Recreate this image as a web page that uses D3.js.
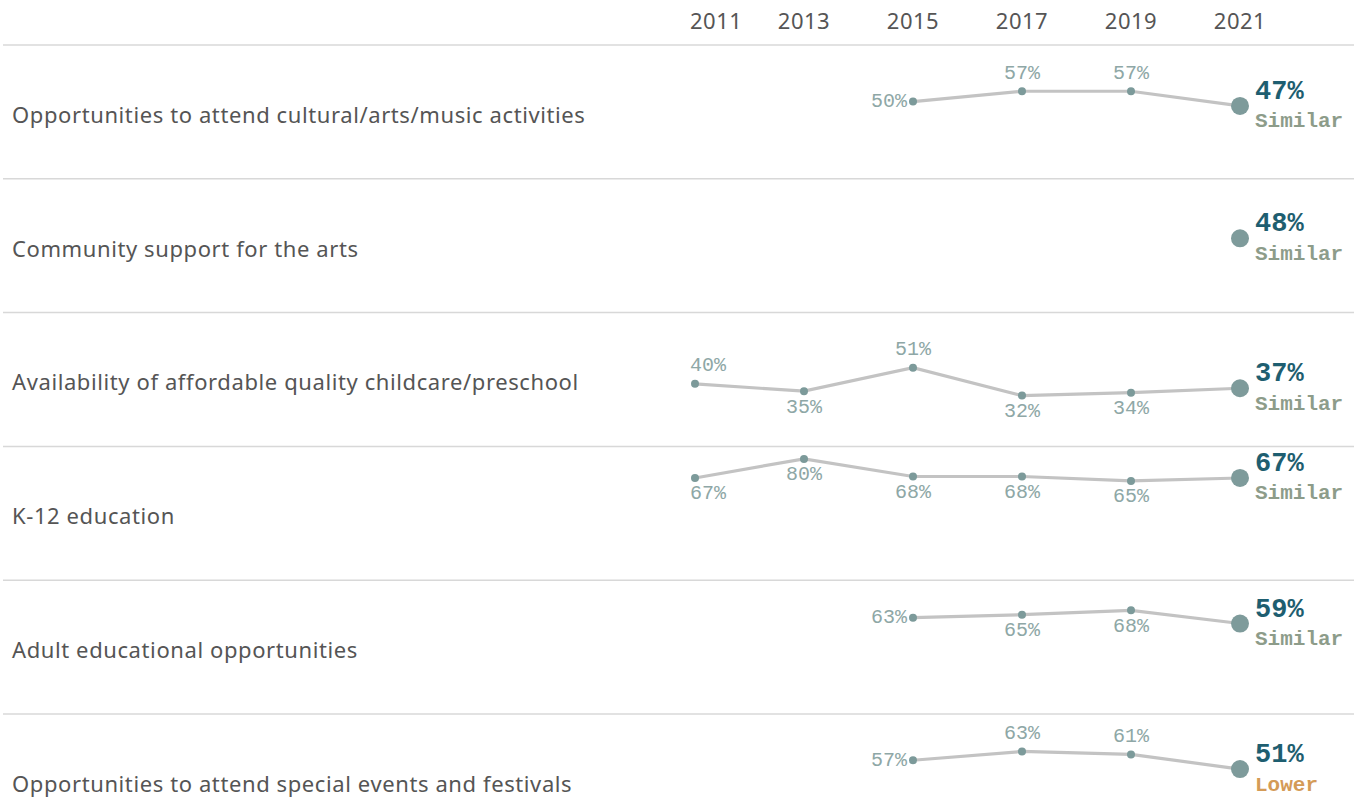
<!DOCTYPE html>
<html>
<head>
<meta charset="utf-8">
<script src="https://cdn.jsdelivr.net/npm/d3@7"></script>
<style>
  html, body { margin: 0; padding: 0; background: #fff; }
  svg { display: block; }
</style>
</head>
<body>
<svg id="chart" width="1354" height="797"></svg>
<script>
// Survey years shown across the top
const years = [2011, 2013, 2015, 2017, 2019, 2021];

// Row categories
const categories = [
  "Opportunities to attend cultural/arts/music activities",
  "Community support for the arts",
  "Availability of affordable quality childcare/preschool",
  "K-12 education",
  "Adult educational opportunities",
  "Opportunities to attend special events and festivals"
];

// Percent rating per year (null = not asked that year)
const culturalArts   = [null, null, 50, 57, 57, 47];
const artsSupport    = [null, null, null, null, null, 48];
const childcare      = [40, 35, 51, 32, 34, 37];
const k12Education   = [67, 80, 68, 68, 65, 67];
const adultEducation = [null, null, 63, 65, 68, 59];
const specialEvents  = [null, null, 57, 63, 61, 51];

// Comparison of the latest result with benchmarks
const comparisons = ["Similar", "Similar", "Similar", "Similar", "Similar", "Lower"];

// Where each earlier-year label sits relative to its point
const labelSides = [
  [null, null, "left", "above", "above", null],
  [null, null, null, null, null, null],
  ["above", "below", "above", "below", "below", null],
  ["below", "below", "below", "below", "below", null],
  [null, null, "left", "below", "below", null],
  [null, null, "left", "above", "above", null]
];

const seriesList = [culturalArts, artsSupport, childcare, k12Education, adultEducation, specialEvents];

const svg = d3.select("#chart");
const W = 1354;
const headerH = 45;
const rowH = 133.8;
const paneLeft = 690;

const x = d3.scaleLinear().domain([2011, 2021]).range([695, 1240]);
const y = d3.scaleLinear().domain([0, 88.5]).range([130, 0]);

const compColor = { "Similar": "#8d9c8a", "Lower": "#d49b57" };

// Year header
const header = svg.append("g");
header.selectAll("text")
  .data(years)
  .join("text")
  .text(d => d)
  .attr("y", 20)
  .attr("dominant-baseline", "central")
  .attr("text-anchor", "middle")
  .attr("font-family", "'Noto Sans', sans-serif")
  .attr("font-size", 22)
  .attr("letter-spacing", 0.5)
  .attr("fill", "#555")
  .attr("x", function(d) {
    const half = this.getComputedTextLength() / 2;
    return Math.max(x(d), paneLeft + half);
  });

// Row separators
svg.append("g").selectAll("line")
  .data(d3.range(categories.length))
  .join("line")
  .attr("x1", 3).attr("x2", W)
  .attr("y1", i => headerH + i * rowH)
  .attr("y2", i => headerH + i * rowH)
  .attr("stroke", "#d8d8d8")
  .attr("stroke-width", 1.5);

const line = d3.line()
  .defined(d => d.v != null)
  .x(d => x(d.year))
  .y(d => y(d.v));

categories.forEach((cat, i) => {
  const g = svg.append("g").attr("transform", `translate(0,${headerH + i * rowH})`);
  const pts = years.map((yr, j) => ({ year: yr, v: seriesList[i][j], side: labelSides[i][j] }));
  const present = pts.filter(d => d.v != null);
  const last = pts[pts.length - 1];

  // Category label
  g.append("text")
    .text(cat)
    .attr("x", 12)
    .attr("y", rowH / 2 + 2)
    .attr("dominant-baseline", "central")
    .attr("font-family", "'Noto Sans', sans-serif")
    .attr("font-size", 22)
    .attr("letter-spacing", 0.6)
    .attr("fill", "#555");

  // Trend line
  g.append("path")
    .datum(pts)
    .attr("d", line)
    .attr("fill", "none")
    .attr("stroke", "#c3c3c3")
    .attr("stroke-width", 3.2);

  // Earlier-year points
  g.selectAll("circle.pt")
    .data(present.slice(0, -1))
    .join("circle")
    .attr("class", "pt")
    .attr("cx", d => x(d.year))
    .attr("cy", d => y(d.v))
    .attr("r", 4)
    .attr("fill", "#7c9a9a");

  // Earlier-year value labels
  g.selectAll("text.pl")
    .data(present.slice(0, -1))
    .join("text")
    .attr("class", "pl")
    .text(d => d.v + "%")
    .attr("font-family", "'Liberation Mono', monospace")
    .attr("font-size", 20)
    .attr("fill", "#8ea7a6")
    .attr("dominant-baseline", "central")
    .attr("text-anchor", d => d.side === "left" ? "end" : "middle")
    .attr("y", d => y(d.v) + (d.side === "above" ? -18 : d.side === "below" ? 16 : 0))
    .attr("x", function(d) {
      if (d.side === "left") return x(d.year) - 6;
      const half = this.getComputedTextLength() / 2;
      return Math.max(x(d.year), paneLeft + half);
    });

  // Latest point
  g.append("circle")
    .attr("cx", x(last.year))
    .attr("cy", y(last.v))
    .attr("r", 9)
    .attr("fill", "#7e9b9b");

  g.append("text")
    .text(last.v + "%")
    .attr("x", 1255)
    .attr("y", y(last.v) - 14)
    .attr("dominant-baseline", "central")
    .attr("font-family", "'Liberation Mono', monospace")
    .attr("font-weight", "bold")
    .attr("font-size", 27)
    .attr("fill", "#1e5e70");

  g.append("text")
    .text(comparisons[i])
    .attr("x", 1255)
    .attr("y", y(last.v) + 16)
    .attr("dominant-baseline", "central")
    .attr("font-family", "'Liberation Mono', monospace")
    .attr("font-weight", "bold")
    .attr("font-size", 21)
    .attr("fill", compColor[comparisons[i]]);
});
</script>
</body>
</html>
